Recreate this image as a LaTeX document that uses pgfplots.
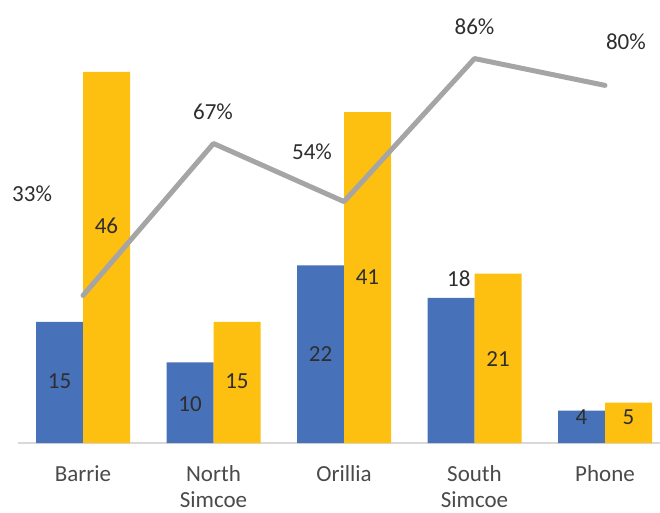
\documentclass[border=0pt]{standalone}
\usepackage{pgfplots}
\pgfplotsset{compat=1.18}
\usepackage{fontspec}
\setmainfont{Carlito}
\definecolor{cblue}{HTML}{4771B8}
\definecolor{cyellow}{HTML}{FDBF10}
\definecolor{cgray}{HTML}{A5A5A5}
\definecolor{caxis}{HTML}{D9D9D9}
\definecolor{clabel}{HTML}{2E2E2E}
\definecolor{ctick}{HTML}{4A4A4A}
\begin{document}
\begin{tikzpicture}[font=\fontsize{23}{26.5}\selectfont]
\useasboundingbox (0,0) rectangle (660pt,512pt);
\clip (0,0) rectangle (660pt,512pt);
\begin{axis}[
  at={(17.75pt,69pt)}, anchor=south west,
  scale only axis, width=652.5pt, height=443pt,
  xmin=-0.5, xmax=4.5, ymin=0, ymax=54.9,
  ybar=0pt, bar width=47pt,
  axis x line*=bottom, axis y line=none,
  x axis line style={draw=caxis, line width=1.6pt, -},
  xtick={0,1,2,3,4},
  xticklabels={Barrie,{North\\Simcoe},Orillia,{South\\Simcoe},Phone},
  xticklabel style={align=center, inner sep=0pt, yshift=-22pt, text=ctick},
  major tick length=0pt,
  clip=false,
]
\addplot[fill=cblue, draw=none] coordinates {(0,15) (1,10) (2,22) (3,18) (4,4)};
\addplot[fill=cyellow, draw=none] coordinates {(0,46) (1,15) (2,41) (3,21) (4,5)};
\begin{scope}[every node/.style={text=clabel, inner sep=0pt}]
\node at (axis cs:-0.18,7.68) {15};
\node at (axis cs:0.18,26.9) {46};
\node at (axis cs:0.82,4.83) {10};
\node at (axis cs:1.18,7.68) {15};
\node at (axis cs:1.82,11.03) {22};
\node at (axis cs:2.18,20.57) {41};
\node at (axis cs:2.88,20.32) {18};
\node at (axis cs:3.18,10.41) {21};
\node at (axis cs:3.82,3.22) {4};
\node at (axis cs:4.18,3.22) {5};
\end{scope}
\end{axis}
\begin{axis}[
  at={(17.75pt,69pt)}, anchor=south west,
  scale only axis, width=652.5pt, height=443pt,
  xmin=-0.5, xmax=4.5, ymin=0, ymax=99.1,
  hide axis, clip=false,
]
\addplot[color=cgray, line width=5pt, line cap=round, line join=round, mark=none]
  coordinates {(0,33) (1,67) (2,54) (3,86) (4,80)};
\begin{scope}[every node/.style={text=clabel, inner sep=0pt}]
\node at (axis cs:-0.39,55.7) {33\%};
\node at (axis cs:0.996,74.0) {67\%};
\node at (axis cs:1.755,65.1) {54\%};
\node at (axis cs:3.0,93.1) {86\%};
\node at (axis cs:4.16,89.7) {80\%};
\end{scope}
\end{axis}
\end{tikzpicture}
\end{document}
